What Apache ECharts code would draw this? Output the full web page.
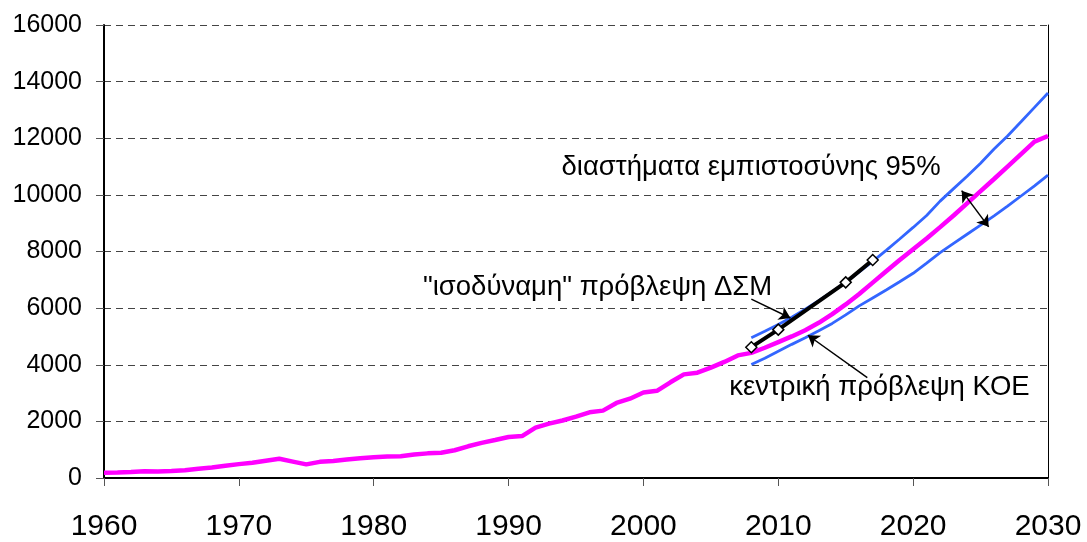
<!DOCTYPE html>
<html>
<head>
<meta charset="utf-8">
<script src="https://cdn.jsdelivr.net/npm/echarts@6/dist/echarts.min.js"></script>
<style>
  html, body { margin: 0; padding: 0; background: #fff; }
  #chart { width: 1087px; height: 542px; }
</style>
</head>
<body>
<div id="chart"></div>
<script>
// ιστορικά στοιχεία
var histYears = [1960, 1961, 1962, 1963, 1964, 1965, 1966, 1967, 1968, 1969,
  1970, 1971, 1972, 1973, 1974, 1975, 1976, 1977, 1978, 1979,
  1980, 1981, 1982, 1983, 1984, 1985, 1986, 1987, 1988, 1989,
  1990, 1991, 1992, 1993, 1994, 1995, 1996, 1997, 1998, 1999,
  2000, 2001, 2002, 2003, 2004, 2005, 2006, 2007];
var histValues = [186, 195, 215, 240, 230, 245, 275, 330, 370, 430,
  490, 540, 610, 680, 580, 480, 570, 600, 650, 700,
  730, 760, 770, 830, 870, 890, 980, 1120, 1240, 1340,
  1450, 1480, 1780, 1920, 2030, 2170, 2320, 2380, 2650, 2800,
  3020, 3080, 3380, 3660, 3720, 3900, 4100, 4330];

// προβλέψεις
var fcYears = [2008, 2009, 2010, 2011, 2012, 2013, 2014, 2015, 2016, 2017, 2018, 2019,
  2020, 2021, 2022, 2023, 2024, 2025, 2026, 2027, 2028, 2029, 2030];
var central = [4420, 4600, 4800, 5000, 5220, 5480, 5790, 6130, 6500, 6900, 7300, 7700,
  8080, 8460, 8860, 9270, 9700, 10130, 10560, 11000, 11440, 11880, 12080];
var upper = [4950, 5180, 5420, 5680, 5960, 6260, 6580, 6920, 7280, 7650, 8040, 8440,
  8850, 9270, 9780, 10220, 10660, 11120, 11620, 12080, 12580, 13090, 13600];
var lower = [4010, 4230, 4480, 4720, 4950, 5200, 5460, 5760, 6080, 6360, 6640, 6930,
  7230, 7590, 7960, 8290, 8610, 8930, 9260, 9600, 9960, 10320, 10700];

// "ισοδύναμη" πρόβλεψη ΔΣΜ
var dsmYears = [2008, 2010, 2015, 2017];
var dsmValues = [4620, 5240, 6910, 7700];

var yTicks = { min: 0, max: 16000, step: 2000 };
var xTicks = { min: 1960, max: 2030, step: 10 };

function pairs(xs, ys) {
  return xs.map(function (x, i) { return [x, ys[i]]; });
}

var chart = echarts.init(document.getElementById('chart'));
var font = '"Liberation Sans", Arial, sans-serif';
var plain = function (v) { return String(v); };

var option = {
  animation: false,
  backgroundColor: '#fff',
  textStyle: { fontFamily: font },
  grid: { left: 104, right: 39, top: 25, bottom: 61 },
  xAxis: {
    type: 'value',
    min: xTicks.min,
    max: xTicks.max,
    interval: xTicks.step,
    axisLine: { show: true, onZero: false, lineStyle: { color: '#000', width: 2 } },
    axisTick: { show: true, length: 8, lineStyle: { color: '#555', width: 1 } },
    axisLabel: { color: '#000', fontSize: 30, margin: 34, fontFamily: font, formatter: plain },
    splitLine: { show: false }
  },
  yAxis: [{
    type: 'value',
    min: yTicks.min,
    max: yTicks.max,
    interval: yTicks.step,
    axisLine: { show: true, lineStyle: { color: '#000', width: 2 } },
    axisTick: { show: true, length: 8, lineStyle: { color: '#555', width: 1 } },
    axisLabel: { color: '#000', fontSize: 25, margin: 22, fontFamily: font, formatter: plain },
    splitLine: { show: true, lineStyle: { color: '#444', width: 1, type: [7, 5] } }
  }, {
    // δεξί πλαίσιο
    type: 'value',
    position: 'right',
    min: yTicks.min,
    max: yTicks.max,
    interval: yTicks.step,
    axisLine: { show: true, lineStyle: { color: '#000', width: 1 } },
    axisTick: { show: false },
    axisLabel: { show: false },
    splitLine: { show: false }
  }],
  series: [
    {
      name: 'upper',
      type: 'line',
      data: pairs(fcYears, upper),
      showSymbol: false,
      lineStyle: { color: '#3366ff', width: 2.8 },
      z: 2
    },
    {
      name: 'lower',
      type: 'line',
      data: pairs(fcYears, lower),
      showSymbol: false,
      lineStyle: { color: '#3366ff', width: 2.8 },
      z: 2
    },
    {
      name: 'central',
      type: 'line',
      data: pairs(histYears, histValues).concat(pairs(fcYears, central)),
      showSymbol: false,
      lineStyle: { color: '#ff00ff', width: 4.5 },
      z: 3
    },
    {
      name: 'dsm',
      type: 'line',
      data: pairs(dsmYears, dsmValues),
      symbol: 'diamond',
      symbolSize: 11,
      itemStyle: { color: '#fff', borderColor: '#000', borderWidth: 1.5 },
      lineStyle: { color: '#000', width: 4 },
      z: 4,
      markLine: {
        silent: true,
        symbol: ['none', 'arrow'],
        symbolSize: 11,
        label: { show: false },
        lineStyle: { color: '#000', width: 1.5, type: 'solid' },
        data: [
          [{ coord: [2023.6, 10150], symbol: 'arrow' }, { coord: [2025.6, 8870] }],
          [{ coord: [2008.0, 6316] }, { coord: [2010.9, 5650] }],
          [{ coord: [2016.6, 3544] }, { coord: [2012.2, 5042] }]
        ]
      },
      markPoint: {
        silent: true,
        symbol: 'rect',
        symbolSize: 1,
        itemStyle: { color: 'rgba(0,0,0,0)' },
        label: { show: true, position: 'inside', color: '#000', fontSize: 27.5, fontFamily: font },
        data: [
          { coord: [2007.98, 10983], label: { formatter: 'διαστήματα εμπιστοσύνης 95%' } },
          { coord: [1996.6, 6737], label: { formatter: '"ισοδύναμη" πρόβλεψη ΔΣΜ' } },
          { coord: [2017.5, 3193], label: { formatter: 'κεντρική πρόβλεψη ΚΟΕ' } }
        ]
      }
    }
  ]
};

chart.setOption(option);
</script>
</body>
</html>
